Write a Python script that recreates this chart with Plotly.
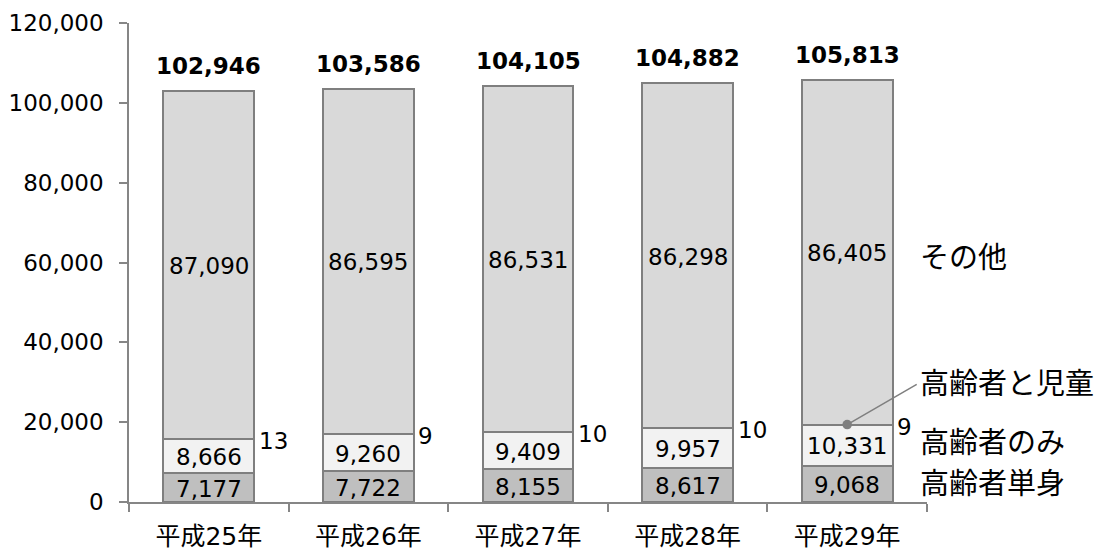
import plotly.graph_objects as go

categories = ["平成25年", "平成26年", "平成27年", "平成28年", "平成29年"]
single = [7177, 7722, 8155, 8617, 9068]          # 高齢者単身
only = [8666, 9260, 9409, 9957, 10331]           # 高齢者のみ
children = [13, 9, 10, 10, 9]                    # 高齢者と児童
other = [87090, 86595, 86531, 86298, 86405]      # その他
totals = [102946, 103586, 104105, 104882, 105813]
series_names = ["高齢者単身", "高齢者のみ", "高齢者と児童", "その他"]
yticks = [0, 20000, 40000, 60000, 80000, 100000, 120000]

NUM_FONT = "DejaVu Sans, Verdana, sans-serif"
JP_FONT = "DejaVu Sans, Noto Sans CJK JP, sans-serif"
edge = "#7f7f7f"

fig = go.Figure()
series = [single, only, children, other]
fills = ["#bfbfbf", "#f2f2f2", "#7f7f7f", "#d9d9d9"]
for name, vals, col in zip(series_names, series, fills):
    fig.add_trace(go.Bar(
        x=categories, y=vals, name=name, marker=dict(color=col, line=dict(color=edge, width=2)),
        width=0.57, hoverinfo="x+y+name",
    ))

NUM_SIZE = 23
ann = []
for i, c in enumerate(categories):
    base = 0
    for k, vals in enumerate(series):
        v = vals[i]
        mid = base + v / 2
        if k == 2:
            ann.append(dict(x=c, y=mid, text=f"{v:,}", showarrow=False, xanchor="left",
                            xshift=48, yshift=-2, font=dict(family=NUM_FONT, size=NUM_SIZE, color="#000")))
        else:
            ann.append(dict(x=c, y=mid, text=f"{v:,}", showarrow=False, yshift=-1,
                            font=dict(family=NUM_FONT, size=NUM_SIZE, color="#000")))
        base += v
    ann.append(dict(x=c, y=totals[i], text=f"<b>{totals[i]:,}</b>", showarrow=False,
                    yanchor="bottom", yshift=10, font=dict(family=NUM_FONT, size=23, color="#000")))

# series labels at right of the last bar
last = categories[-1]
b0 = single[-1]
b1 = b0 + only[-1]
b2 = b1 + children[-1]
JP_SIZE = 29
ann.append(dict(x=last, y=b0 / 2, text=series_names[0], showarrow=False, xanchor="left", xshift=71,
                font=dict(family=JP_FONT, size=JP_SIZE, color="#000")))
ann.append(dict(x=last, y=b0 + only[-1] / 2, text=series_names[1], showarrow=False, xanchor="left", xshift=71,
                yshift=2, font=dict(family=JP_FONT, size=JP_SIZE, color="#000")))
ann.append(dict(x=last, y=b2 + other[-1] / 2, text=series_names[3], showarrow=False, xanchor="left", xshift=71,
                yshift=-6, font=dict(family=JP_FONT, size=JP_SIZE, color="#000")))
ann.append(dict(x=last, y=b1 + children[-1] / 2, text=series_names[2], showarrow=False, xanchor="left", xshift=71,
                yshift=41, font=dict(family=JP_FONT, size=JP_SIZE, color="#000")))
# leader line with dot
ann.append(dict(x=last, y=b1 + children[-1] / 2, text="", showarrow=True, ax=71, ay=-41,
                arrowhead=6, arrowsize=1.6, arrowwidth=1.5, arrowcolor="#7f7f7f", standoff=0, startstandoff=0))

fig.update_layout(
    width=1104, height=559,
    margin=dict(l=129, r=177, t=23, b=57, autoexpand=False),
    barmode="stack",
    plot_bgcolor="white", paper_bgcolor="white",
    showlegend=False,
    annotations=ann,
    font=dict(family=NUM_FONT, size=22, color="#000"),
)
fig.update_yaxes(range=[0, 120000], tickvals=yticks, tickformat=",", showgrid=False, zeroline=False,
                 automargin=False, ticklabelstandoff=11,
                 showline=True, linecolor="#868686", linewidth=1.5, ticks="outside", ticklen=8,
                 tickcolor="#868686", tickwidth=1.5, tickfont=dict(family=NUM_FONT, size=NUM_SIZE, color="#000"))
fig.update_xaxes(range=[-0.5, 4.5], autorange=False, showgrid=False, automargin=False,
                 showline=True, linecolor="#868686", linewidth=1.5, ticks="outside",
                 tickson="boundaries", ticklen=8, tickcolor="#868686", tickwidth=1.5, ticklabelstandoff=11,
                 tickfont=dict(family=JP_FONT, size=25, color="#000"))

fig.write_html("out.html", config={"displayModeBar": False},
               post_script="document.body.style.margin='0';document.body.style.overflow='hidden';")
